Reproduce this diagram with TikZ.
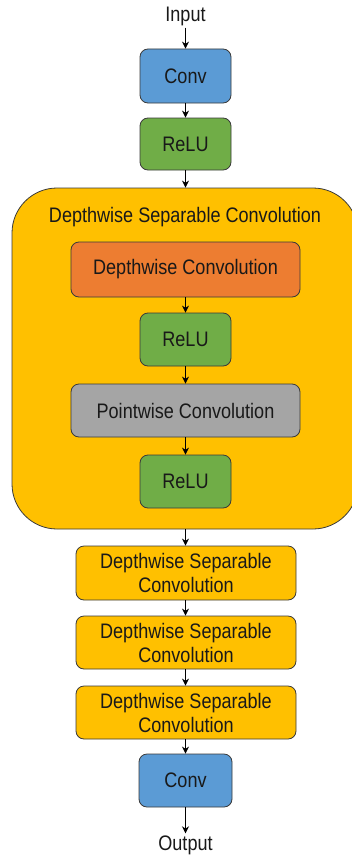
\documentclass[tikz,border=0pt]{standalone}
\usepackage{fontspec}
\setmainfont{Liberation Sans}[FakeStretch=0.86]
\usetikzlibrary{arrows.meta}
\definecolor{convblue}{HTML}{5B9BD5}
\definecolor{relugreen}{HTML}{70AD47}
\definecolor{dworange}{HTML}{ED7D31}
\definecolor{pwgray}{HTML}{A5A5A5}
\definecolor{dsgold}{HTML}{FFC000}
\definecolor{edge}{HTML}{3A3A3A}
\tikzset{
  block/.style={draw=edge, line width=0.8pt, rounded corners=8pt, inner sep=0pt,
    align=center, font=\fontsize{21}{24}\selectfont, text=black!90},
  small/.style={block, minimum width=91pt, minimum height=53pt},
  wide/.style={block, minimum width=229pt, minimum height=54pt},
  stack/.style={block, fill=dsgold, minimum width=220pt, minimum height=54pt},
  label/.style={font=\fontsize{21}{24}\selectfont, text=black!90, inner sep=2pt},
  arr/.style={-{Stealth[length=7pt,width=7pt]}, line width=0.9pt, black},
}
\begin{document}
\begin{tikzpicture}[x=1pt,y=-1pt]
\useasboundingbox (0,0) rectangle (351,859);
\fill[white] (0,0) rectangle (351,859);

% input stage
\node[label] (input) at (185.5,16) {Input};
\node[small, fill=convblue, minimum width=91pt, minimum height=54pt] (conv1) at (185.5,76) {Conv};
\node[small, fill=relugreen, minimum height=52pt] (relu1) at (185.5,144) {ReLU};

% expanded depthwise separable block
\node[block, fill=dsgold, rounded corners=45pt, minimum width=346pt, minimum height=341pt] (dsc) at (185,358.5) {};
\node[label] (title) at (185,217) {Depthwise Separable Convolution};
\node[wide, fill=dworange, minimum height=55pt] (dw) at (185.5,269.5) {Depthwise Convolution};
\node[small, fill=relugreen] (relu2) at (185.5,339.5) {ReLU};
\node[wide, fill=pwgray, minimum height=53pt] (pw) at (185.5,410.5) {Pointwise Convolution};
\node[small, fill=relugreen] (relu3) at (185.5,481.5) {ReLU};

% repeated blocks
\node[stack] (dsc1) at (186,573) {Depthwise Separable\\Convolution};
\node[stack, minimum height=53pt] (dsc2) at (186,642.5) {Depthwise Separable\\Convolution};
\node[stack, minimum height=53pt] (dsc3) at (186,712.5) {Depthwise Separable\\Convolution};
\node[small, fill=convblue, minimum width=93pt] (conv2) at (185.5,780.5) {Conv};
\node[label] (output) at (185.5,845) {Output};

% connectors
\draw[arr] (input) -- (conv1);
\draw[arr] (conv1) -- (relu1);
\draw[arr] (relu1) -- (relu1 |- dsc.north);
\draw[arr] (dw) -- (relu2);
\draw[arr] (relu2) -- (pw);
\draw[arr] (pw) -- (relu3);
\draw[arr] (relu3 |- dsc.south) -- (relu3 |- dsc1.north);
\draw[arr] (dsc1.south -| relu3) -- (dsc2.north -| relu3);
\draw[arr] (dsc2.south -| relu3) -- (dsc3.north -| relu3);
\draw[arr] (dsc3.south -| conv2) -- (conv2);
\draw[arr] (conv2) -- (output);
\end{tikzpicture}
\end{document}
